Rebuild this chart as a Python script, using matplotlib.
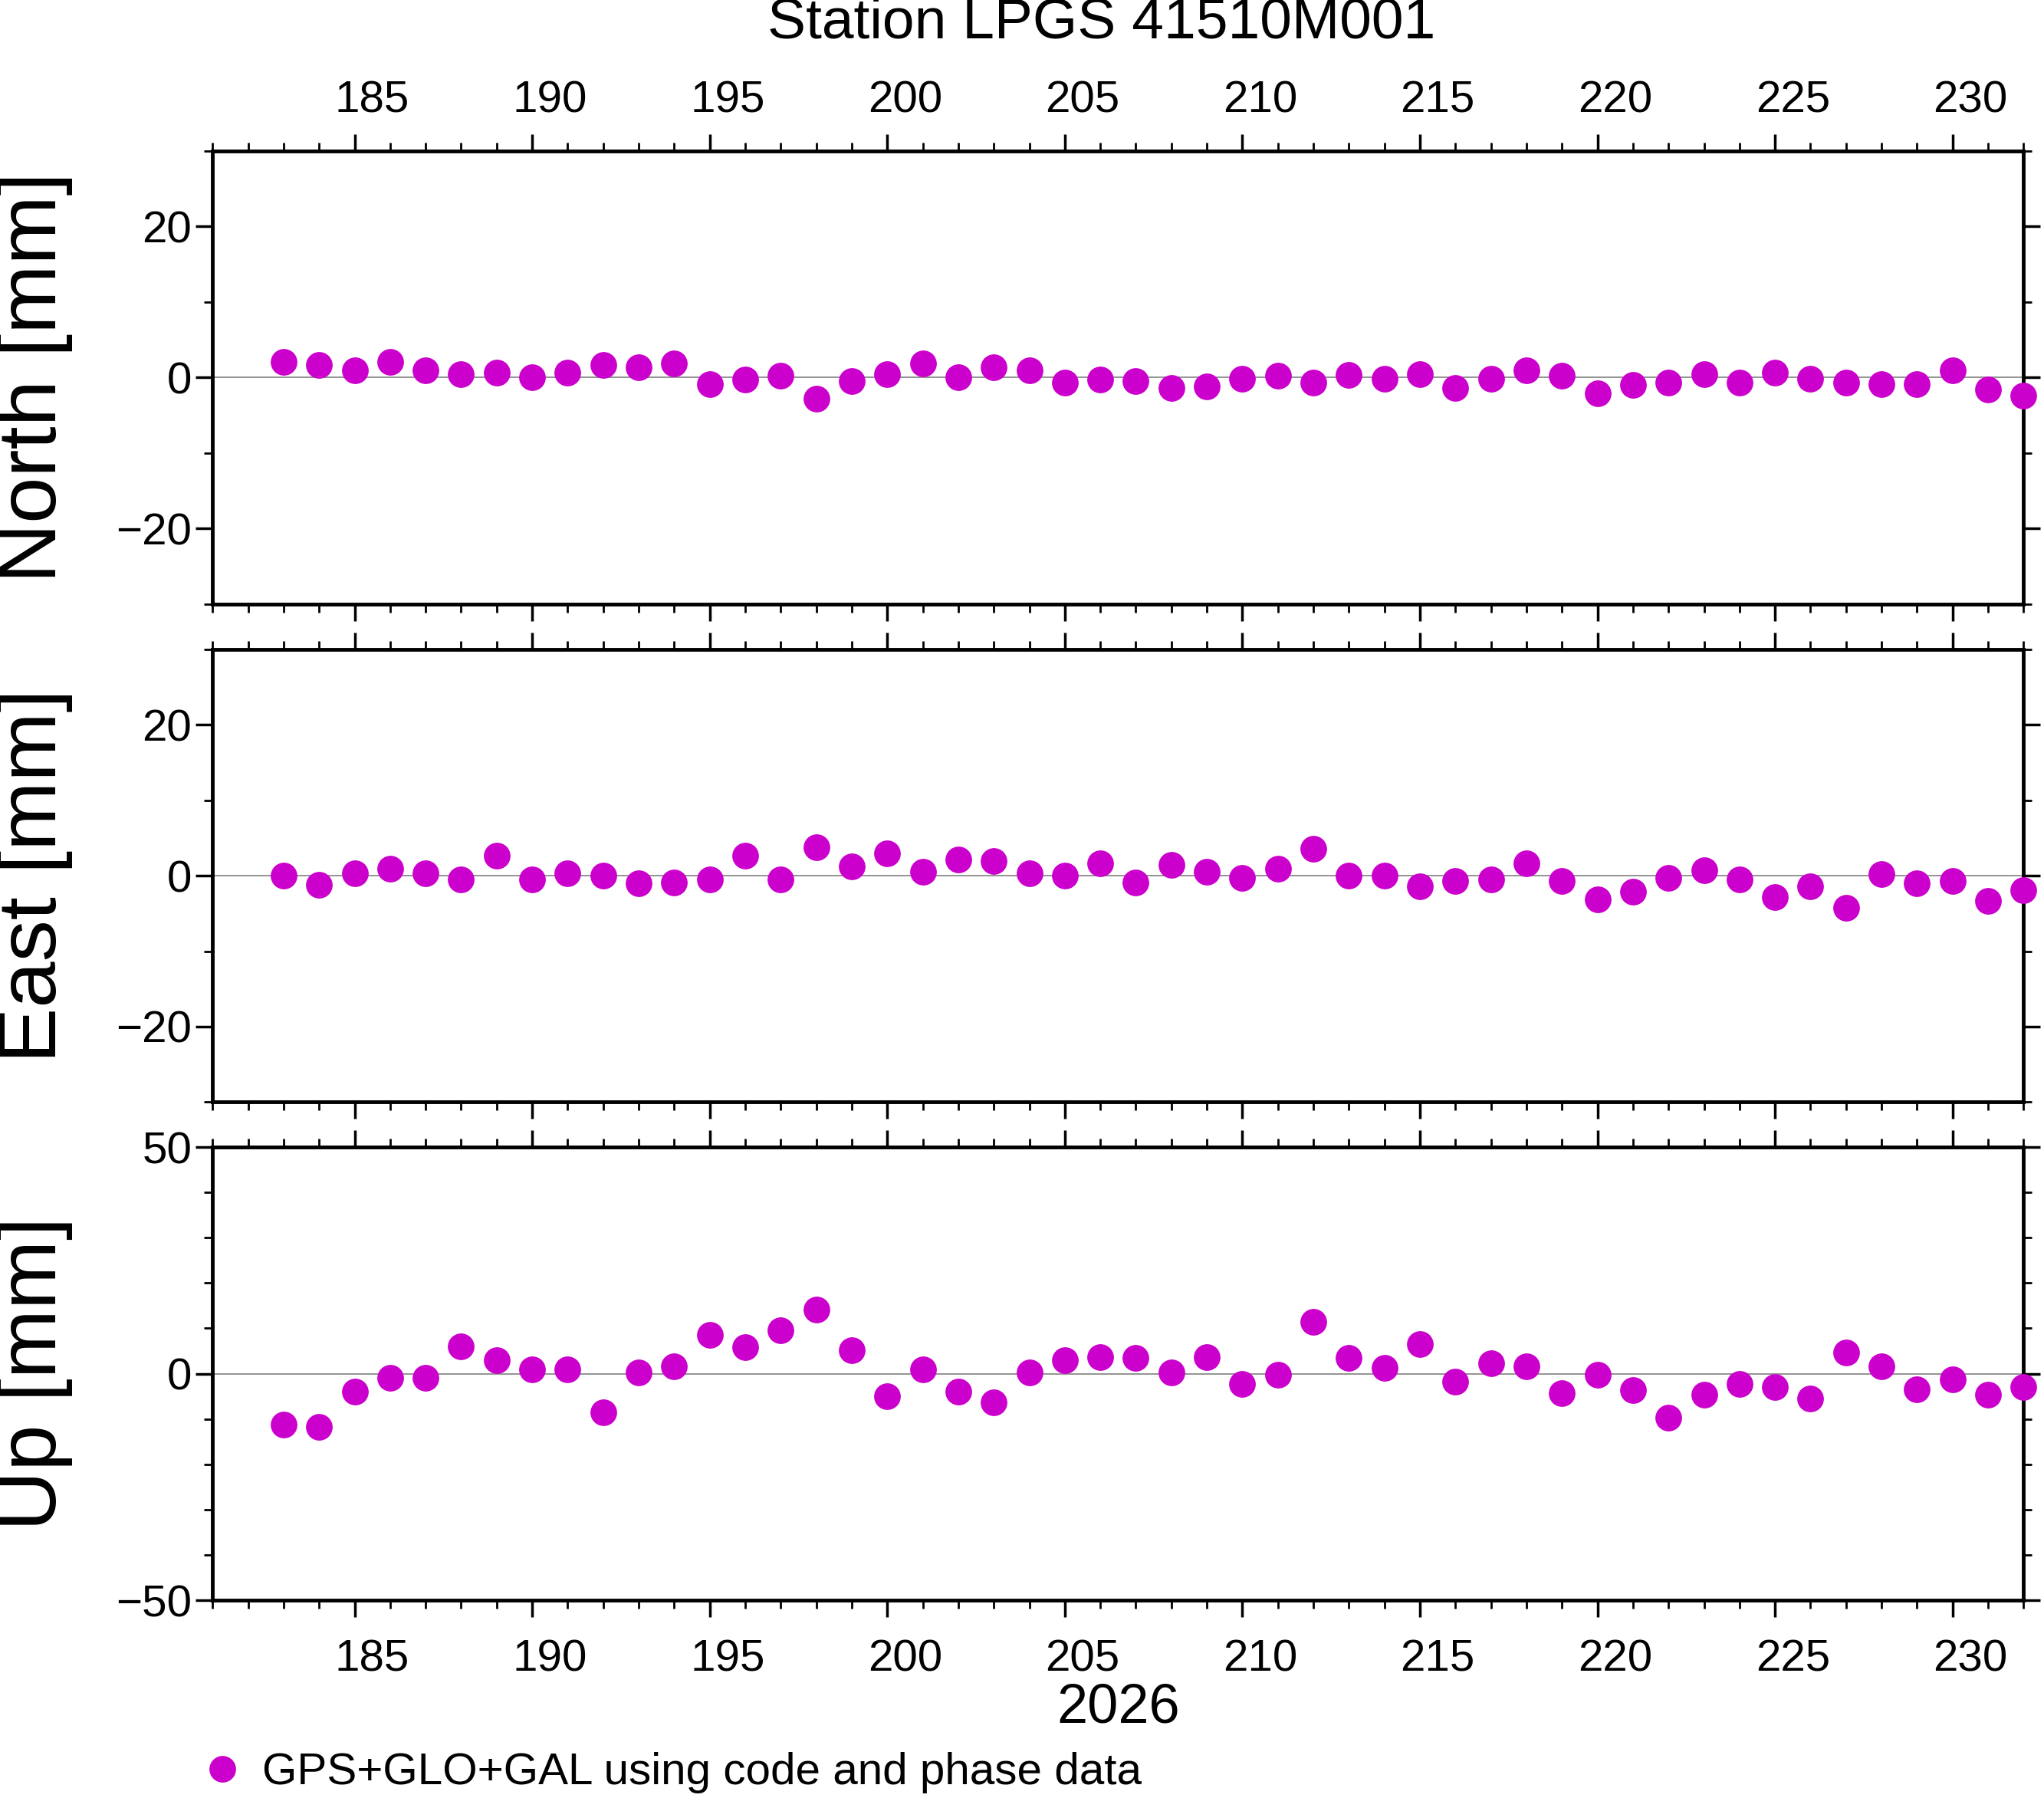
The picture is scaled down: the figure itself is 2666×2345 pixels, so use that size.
import matplotlib.pyplot as plt
import numpy as np

plt.rcParams['font.family'] = ['Liberation Sans', 'DejaVu Sans']

days = np.arange(183, 233)
north = [2.1, 1.7, 1.0, 2.1, 1.0, 0.5, 0.7, 0.0, 0.7, 1.7,
         1.4, 1.9, -0.9, -0.3, 0.2, -2.8, -0.5, 0.5, 1.9, 0.0,
         1.4, 1.0, -0.7, -0.3, -0.5, -1.4, -1.2, -0.2, 0.2, -0.7,
         0.3, -0.2, 0.5, -1.4, -0.2, 1.0, 0.2, -2.1, -1.0, -0.7,
         0.5, -0.7, 0.7, -0.2, -0.7, -0.9, -0.9, 1.0, -1.6, -2.4]
east = [0.0, -1.2, 0.3, 0.9, 0.3, -0.5, 2.6, -0.5, 0.3, 0.0,
        -1.0, -0.9, -0.5, 2.6, -0.5, 3.8, 1.2, 2.9, 0.5, 2.1,
        1.9, 0.3, 0.0, 1.6, -0.9, 1.4, 0.5, -0.3, 0.9, 3.6,
        0.0, 0.0, -1.4, -0.7, -0.5, 1.6, -0.7, -3.1, -2.1, -0.3,
        0.7, -0.5, -2.8, -1.4, -4.3, 0.2, -1.0, -0.7, -3.3, -1.9]
up = [-11.2, -11.8, -4.0, -0.9, -0.9, 6.1, 2.9, 0.9, 0.9, -8.6,
      0.3, 1.7, 8.6, 5.8, 9.5, 14.1, 5.2, -4.9, 0.9, -4.0,
      -6.3, 0.3, 2.9, 3.7, 3.5, 0.3, 3.7, -2.3, -0.3, 11.5,
      3.5, 1.2, 6.6, -1.7, 2.3, 1.7, -4.3, -0.3, -3.7, -9.8,
      -4.6, -2.3, -2.9, -5.5, 4.6, 1.7, -3.5, -1.2, -4.6, -2.9]

panels = [("North [mm]", north, 30, [-20, 0, 20]),
          ("East [mm]", east, 30, [-20, 0, 20]),
          ("Up [mm]", up, 50, [-50, 0, 50])]
xmin, xmax = 181, 232
majors = np.arange(185, 232, 5)
label_pos = majors + 0.5
color = "#cc00cc"

fig = plt.figure(figsize=(26.66, 23.45), dpi=100)
bottoms = [0.664, 0.387, 0.110]
height = 0.252
axes = []
handle = None
for (name, vals, lim, yt), b in zip(panels, bottoms):
    ax = fig.add_axes([0.104, b, 0.886, height])
    ax.axhline(0, color="gray", linewidth=1.2, zorder=1)
    handle, = ax.plot(days, vals, "o", color=color, markersize=24, clip_on=False,
                      label="GPS+GLO+GAL using code and phase data", zorder=3)
    ax.set_xlim(xmin, xmax)
    ax.set_ylim(-lim, lim)
    ax.set_yticks(yt, [f"{t}".replace("-", "\u2212") for t in yt])
    ax.set_yticks(np.arange(-lim, lim + 1, 10), minor=True)
    ax.set_xticks(majors, [])
    ax.set_xticks(np.arange(xmin, xmax + 1), minor=True)
    ax.tick_params(axis="both", which="major", direction="out", length=16, width=2.5,
                   labelsize=42, top=True, right=True, labelright=False)
    ax.tick_params(axis="both", which="minor", direction="out", length=8, width=2,
                   top=True, right=True)
    for s in ax.spines.values():
        s.set_linewidth(3.5)
    ax.set_ylabel(name, fontsize=78)
    ax.yaxis.set_label_coords(-0.077, 0.5)
    axes.append(ax)

top = axes[0].secondary_xaxis("top")
top.set_xticks(label_pos, [str(m) for m in majors])
top.tick_params(length=0, labelsize=42, pad=28)
top.spines["top"].set_visible(False)

bot = axes[2].secondary_xaxis("bottom")
bot.set_xticks(label_pos, [str(m) for m in majors])
bot.tick_params(length=0, labelsize=42, pad=36)
bot.spines["bottom"].set_visible(False)

fig.text(0.539, 0.987, "Station LPGS 41510M001", fontsize=54, ha="center", va="center")
fig.text(0.547, 0.050, "2026", fontsize=52, ha="center", va="center")
fig.legend(handles=[handle], loc="center left", bbox_to_anchor=(0.1, 0.014),
           frameon=False, fontsize=42, handletextpad=0.5, handlelength=0.8,
           borderpad=0, borderaxespad=0)

fig.savefig("out.png")
